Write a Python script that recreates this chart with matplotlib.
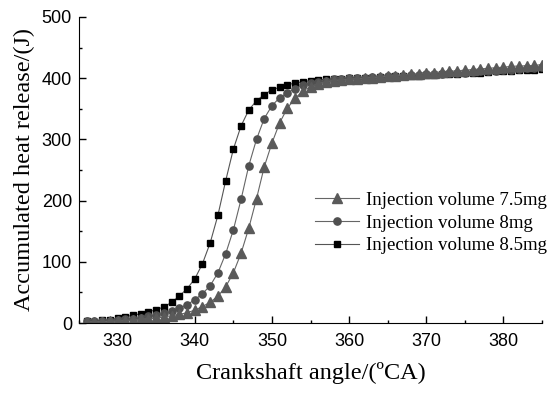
import numpy as np
import matplotlib
matplotlib.use("Agg")
import matplotlib.pyplot as plt
from matplotlib.ticker import MultipleLocator

# crank angle, one point per degree
angle = list(range(326, 386))

heat_75 = [2, 2, 2, 3, 3, 4, 5, 6, 7, 8,
           10, 12, 14, 17, 21, 27, 34, 44, 59, 82,
           114, 155, 203, 255, 294, 327, 351, 367, 379, 386,
           391, 394, 396, 397, 398, 399, 400, 401, 402, 403,
           404, 405, 406, 407, 408, 409, 410, 411, 412, 413,
           414, 415, 416, 417, 418, 419, 420, 420, 421, 422]
heat_8 = [3, 3, 4, 4, 5, 6, 7, 9, 11, 13,
          16, 19, 24, 30, 38, 48, 61, 82, 113, 152,
          202, 257, 300, 334, 355, 368, 376, 383, 388, 392,
          394, 396, 398, 399, 400, 401, 401, 402, 402, 403,
          404, 404, 405, 405, 406, 407, 407, 408, 409, 409,
          410, 411, 412, 412, 413, 414, 415, 416, 417, 418]
heat_85 = [4, 2, 5, 5, 8, 10, 13, 15, 18, 22,
           26, 34, 44, 56, 72, 97, 131, 176, 232, 284,
           322, 348, 363, 373, 381, 385, 389, 392, 394, 396,
           397, 398, 399, 399, 400, 400, 401, 401, 402, 402,
           403, 403, 404, 404, 405, 405, 406, 407, 407, 408,
           409, 409, 410, 411, 411, 412, 413, 413, 414, 415]

labels = ["Injection volume 7.5mg", "Injection volume 8mg", "Injection volume 8.5mg"]

fig = plt.figure(figsize=(5.5, 3.93), dpi=100)
ax = fig.add_axes([0.1436, 0.178, 0.842, 0.779])

l85, = ax.plot(angle, heat_85, color="#555555", lw=0.8, marker="s", ms=4.8,
               mfc="black", mec="black")
l8, = ax.plot(angle, heat_8, color="#666666", lw=0.8, marker="o", ms=5.2,
              mfc="#505050", mec="#505050")
l75, = ax.plot(angle, heat_75, color="#666666", lw=0.8, marker="^", ms=6.8,
               mfc="#5a5a5a", mec="#5a5a5a")

ax.set_xlim(325, 385)
ax.set_ylim(0, 500)
ax.xaxis.set_major_locator(MultipleLocator(10))
ax.xaxis.set_minor_locator(MultipleLocator(5))
ax.yaxis.set_major_locator(MultipleLocator(100))
ax.yaxis.set_minor_locator(MultipleLocator(50))
ax.spines["top"].set_visible(False)
ax.spines["right"].set_visible(False)
ax.tick_params(which="major", direction="in", length=5, width=1,
               labelsize=13)
ax.tick_params(axis="x", which="major", pad=7)
ax.tick_params(axis="y", which="major", pad=5)
ax.tick_params(which="minor", direction="in", length=2.5, width=1)
for t in ax.get_xticklabels() + ax.get_yticklabels():
    t.set_fontfamily("Liberation Sans")

serif = "Liberation Serif"
ax.set_xlabel("Crankshaft angle/(ºCA)", fontfamily=serif, fontsize=17.5, labelpad=9)
ax.set_ylabel("Accumulated heat release/(J)", fontfamily=serif, fontsize=17.5, labelpad=5)

ax.legend([l75, l8, l85], labels, loc="center left", bbox_to_anchor=(0.51, 0.327),
          frameon=False, prop={"family": serif, "size": 13.6}, handlelength=2.3,
          handletextpad=0.4, labelspacing=0.3, borderpad=0, borderaxespad=0)

fig.savefig("out.png", dpi=100)
